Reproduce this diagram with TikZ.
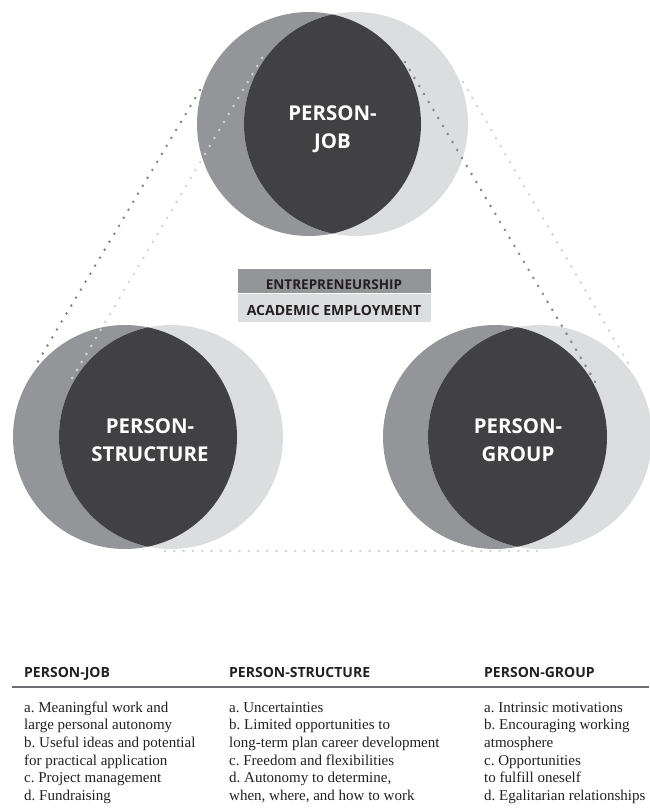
\documentclass[tikz,border=0pt]{standalone}
\usepackage{fontspec}
\setmainfont{Liberation Serif}
\newfontfamily\headfont{Open Sans}
\frenchspacing

\definecolor{entgray}{HTML}{939598}
\definecolor{acagray}{HTML}{DCDDDE}
\definecolor{lensgray}{HTML}{414042}
\definecolor{dotdarkc}{HTML}{808285}
\definecolor{dotlightc}{HTML}{D1D3D4}
\definecolor{ink}{HTML}{231F20}
\definecolor{rulegray}{HTML}{6D6E71}

\begin{document}
\begin{tikzpicture}[x=1pt, y=-1pt,
  entcircle/.style={circle, fill=entgray, minimum size=224pt, inner sep=0pt},
  acacircle/.style={circle, fill=acagray, minimum size=224pt, inner sep=0pt},
  lenslabel/.style={font=\headfont\bfseries\fontsize{20.4}{27.5}\selectfont,
    text=white, align=center, inner sep=0pt, anchor=base},
  dotdark/.style={draw=dotdarkc, line width=2.8pt, line cap=round,
    dash pattern=on 0pt off 9.3pt},
  dotlight/.style={draw=dotlightc, line width=2.8pt, line cap=round,
    dash pattern=on 0pt off 9.3pt},
  legendbox/.style={rectangle, minimum width=193pt, inner sep=0pt, anchor=north west},
  legendtext/.style={font=\headfont\bfseries, text=ink, inner sep=0pt, anchor=base},
  colhead/.style={font=\headfont\bfseries\fontsize{14}{16}\selectfont,
    text=ink, inner sep=0pt, anchor=base west},
  colitems/.style={font=\fontsize{15}{17.7}\selectfont, text=ink,
    align=left, inner sep=0pt, anchor=base west}
]
\useasboundingbox (0,0) rectangle (649,811);

% ---- three overlapping circle pairs; the overlap is filled dark ----
\node[entcircle] (jobE) at (309,124) {};
\node[acacircle, path picture={\fill[lensgray] (jobE.center) circle (112pt);}]
  (jobA) at (356,124) {};

\node[entcircle] (strE) at (125,437) {};
\node[acacircle, path picture={\fill[lensgray] (strE.center) circle (112pt);}]
  (strA) at (171,437) {};

\node[entcircle] (grpE) at (495,437) {};
\node[acacircle, path picture={\fill[lensgray] (grpE.center) circle (112pt);}]
  (grpA) at (540,437) {};

% ---- dotted tangent lines between the pairs ----
\coordinate (ldA) at (200,90);   \coordinate (ldB) at (37,363);
\coordinate (llA) at (262,58);   \coordinate (llB) at (68,385);
\coordinate (rdA) at (405,62);   \coordinate (rdB) at (597,385);
\coordinate (rlA) at (463,82);   \coordinate (rlB) at (628,363);
\coordinate (blA) at (165,551);  \coordinate (blB) at (542,551);
\draw[dotdark]  (ldA) -- (ldB);
\draw[dotlight] (llA) -- (llB);
\draw[dotdark]  (rdA) -- (rdB);
\draw[dotlight] (rlA) -- (rlB);
\draw[dotlight] (blA) -- (blB);

% ---- circle labels (anchored on the baseline of their last line) ----
\node[lenslabel] (jobL) at (332.5,148) {PERSON-\\JOB};
\node[lenslabel] (strL) at (150,461) {PERSON-\\STRUCTURE};
\node[lenslabel] (grpL) at (518,461) {PERSON-\\GROUP};

% ---- legend ----
\node[legendbox, fill=entgray, minimum height=23.5pt] (entBox) at (238,269) {};
\node[legendbox, fill=acagray, minimum height=28pt] (acaBox) at (238,294) {};
\node[legendtext, font=\headfont\bfseries\fontsize{13.5}{15}\selectfont]
  (entT) at (334,289) {ENTREPRENEURSHIP};
\node[legendtext, font=\headfont\bfseries\fontsize{14}{16}\selectfont]
  (acaT) at (334,315) {ACADEMIC EMPLOYMENT};

% ---- table of characteristics ----
\node[colhead] (h1) at (24,677)  {PERSON-JOB};
\node[colhead] (h2) at (229,677) {PERSON-STRUCTURE};
\node[colhead] (h3) at (484,677) {PERSON-GROUP};
\coordinate (ruleL) at (12,687);
\coordinate (ruleR) at (649,687);
\draw[rulegray, line width=1.2pt] (ruleL) -- (ruleR);

% item lists, anchored on the baseline of their last line
\node[colitems] (c1) at (24,800.5) {a. Meaningful work and\\
  large personal autonomy\\
  b. Useful ideas and potential\\
  for practical application\\
  c. Project management\\
  d. Fundraising};
\node[colitems] (c2) at (229,800.5) {a. Uncertainties\\
  b. Limited opportunities to\\
  long-term plan career development\\
  c. Freedom and flexibilities\\
  d. Autonomy to determine,\\
  when, where, and how to work};
\node[colitems] (c3) at (484,800.5) {a. Intrinsic motivations\\
  b. Encouraging working\\
  atmosphere\\
  c. Opportunities\\
  to fulfill oneself\\
  d. Egalitarian relationships};
\end{tikzpicture}
\end{document}
